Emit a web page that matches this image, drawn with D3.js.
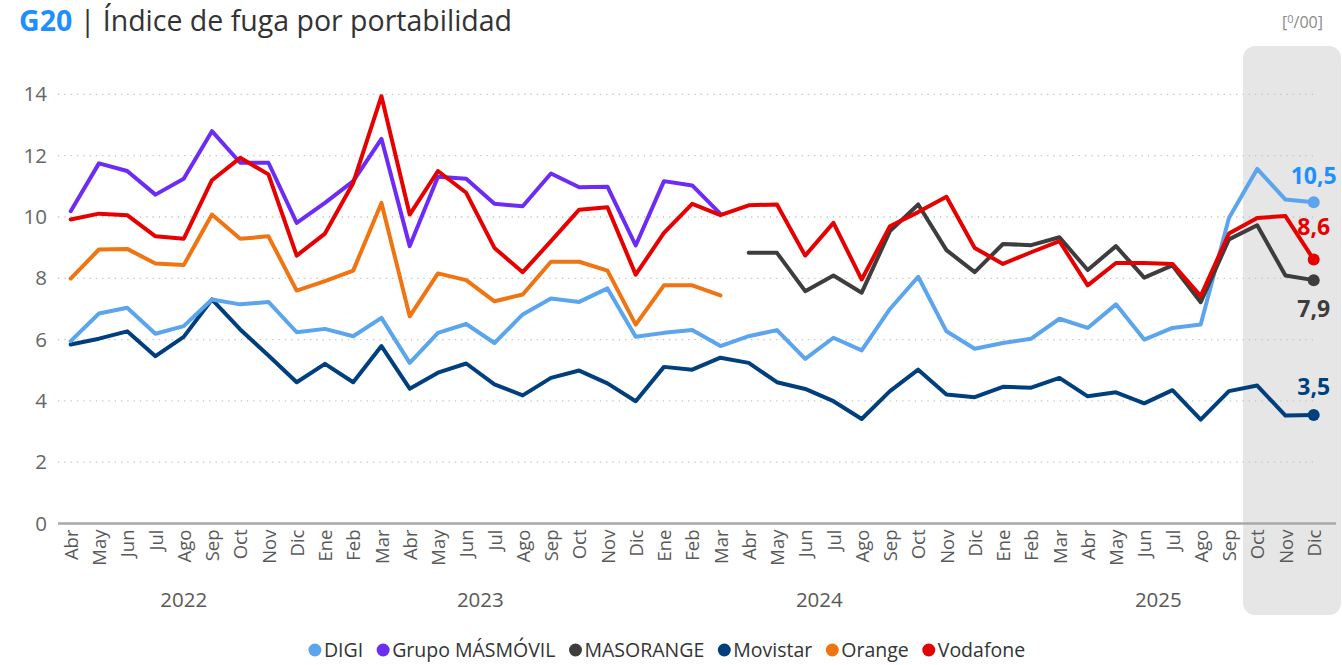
<!DOCTYPE html>
<html>
<head>
<meta charset="utf-8">
<script src="https://cdn.jsdelivr.net/npm/d3@7"></script>
<style>
  body { margin: 0; background: #fff; }
  svg { display: block; font-family: "Open Sans", "Noto Sans", sans-serif; }
</style>
</head>
<body>
<div class="graph"></div>
<script>
// months Abr 2022 .. Dic 2025
var months = ["Abr","May","Jun","Jul","Ago","Sep","Oct","Nov","Dic",
  "Ene","Feb","Mar","Abr","May","Jun","Jul","Ago","Sep","Oct","Nov","Dic",
  "Ene","Feb","Mar","Abr","May","Jun","Jul","Ago","Sep","Oct","Nov","Dic",
  "Ene","Feb","Mar","Abr","May","Jun","Jul","Ago","Sep","Oct","Nov","Dic"];
var years = ["2022", "2023", "2024", "2025"];
var yTicks = [0, 2, 4, 6, 8, 10, 12, 14];

var digi = [5.95, 6.85, 7.04, 6.19, 6.44, 7.31, 7.15, 7.23, 6.24,
  6.35, 6.11, 6.71, 5.24, 6.22, 6.51, 5.89, 6.82, 7.34, 7.23, 7.67, 6.09,
  6.22, 6.31, 5.79, 6.11, 6.31, 5.37, 6.06, 5.65, 7.0, 8.05, 6.27, 5.7,
  5.89, 6.03, 6.68, 6.38, 7.15, 6.0, 6.38, 6.49, 9.97, 11.57, 10.57, 10.48];

var masmovil = [10.19, 11.75, 11.5, 10.73, 11.25, 12.8, 11.77, 11.77, 9.81,
  10.46, 11.17, 12.55, 9.05, 11.31, 11.25, 10.43, 10.35, 11.42, 10.97, 10.99, 9.07,
  11.17, 11.03, 10.1, null, null, null, null, null, null, null, null, null,
  null, null, null, null, null, null, null, null, null, null, null, null];

var masorange = [null, null, null, null, null, null, null, null, null,
  null, null, null, null, null, null, null, null, null, null, null, null,
  null, null, null, 8.83, 8.83, 7.58, 8.09, 7.53, 9.54, 10.41, 8.92, 8.2,
  9.12, 9.08, 9.34, 8.27, 9.05, 8.02, 8.42, 7.22, 9.27, 9.73, 8.09, 7.94];

var movistar = [5.84, 6.03, 6.27, 5.46, 6.09, 7.31, 6.33, 5.48, 4.61,
  5.21, 4.61, 5.79, 4.4, 4.92, 5.22, 4.54, 4.18, 4.75, 4.99, 4.57, 3.99,
  5.11, 5.02, 5.41, 5.24, 4.61, 4.39, 3.99, 3.41, 4.32, 5.02, 4.21, 4.12,
  4.46, 4.43, 4.75, 4.15, 4.28, 3.92, 4.35, 3.39, 4.32, 4.5, 3.52, 3.54];

var orange = [7.99, 8.94, 8.96, 8.48, 8.43, 10.08, 9.29, 9.37, 7.6,
  7.91, 8.25, 10.46, 6.76, 8.16, 7.94, 7.25, 7.47, 8.54, 8.54, 8.25, 6.49,
  7.77, 7.77, 7.44, null, null, null, null, null, null, null, null, null,
  null, null, null, null, null, null, null, null, null, null, null, null];

var vodafone = [9.92, 10.11, 10.06, 9.37, 9.29, 11.2, 11.93, 11.39, 8.74,
  9.46, 11.11, 13.94, 10.08, 11.5, 10.79, 8.99, 8.2, 9.21, 10.24, 10.32, 8.12,
  9.48, 10.43, 10.06, 10.38, 10.41, 8.74, 9.81, 7.96, 9.7, 10.16, 10.66, 8.99,
  8.47, 8.85, 9.21, 7.77, 8.5, 8.5, 8.47, 7.42, 9.46, 9.97, 10.03, 8.61];

var series = [
  {name: "DIGI", values: digi, color: "#5aa5ee", label: "#1e8fff"},
  {name: "Grupo MÁSMÓVIL", values: masmovil, color: "#6c2cf6"},
  {name: "MASORANGE", values: masorange, color: "#3d3d3d", label: "#3d3d3d"},
  {name: "Movistar", values: movistar, color: "#003f7d", label: "#003f7d"},
  {name: "Orange", values: orange, color: "#f07412"},
  {name: "Vodafone", values: vodafone, color: "#e60000", label: "#e60000"}
];
// draw order (back to front)
var drawOrder = ["Orange", "Grupo MÁSMÓVIL", "Movistar", "DIGI", "MASORANGE", "Vodafone"];
// end label offsets (pixels from last point to text baseline)
var labelOffset = {"DIGI": -18, "Vodafone": -25, "MASORANGE": 37, "Movistar": -20};

var width = 1342, height = 665;

var svg = d3.select("div.graph").append("svg")
    .attr("width", width)
    .attr("height", height);

var x = d3.scalePoint().domain(d3.range(months.length)).range([70.7, 1313.7]);
var y = d3.scaleLinear().domain([0, 14]).range([523.5, 94.4]);
var step = x.step();

// highlighted last quarter (Oct - Dic 2025)
var hx = x(months.length - 3) - step / 2;
svg.append("rect")
    .attr("x", hx)
    .attr("y", 46)
    .attr("width", width - hx - 1)
    .attr("height", 569)
    .attr("rx", 12)
    .attr("fill", "#e6e6e6");

// title
var title = svg.append("text")
    .attr("x", 19)
    .attr("y", 31)
    .attr("font-size", 28.5);
title.append("tspan").attr("font-weight", "bold").attr("fill", "#1e8fff").text("G20");
title.append("tspan").attr("fill", "#333").text(" | Índice de fuga por portabilidad");

var unit = svg.append("text")
    .attr("x", 1323)
    .attr("y", 28)
    .attr("text-anchor", "end")
    .attr("font-size", 16)
    .attr("fill", "#8a8a8a");
unit.append("tspan").text("[");
unit.append("tspan").attr("font-size", 11).attr("dy", -5).text("0");
unit.append("tspan").attr("dy", 5).text("/00]");

// gridlines
svg.append("g")
  .selectAll("line")
  .data(yTicks.filter(function(d) { return d > 0; }))
  .enter().append("line")
    .attr("x1", 58)
    .attr("x2", 1318)
    .attr("y1", function(d) { return y(d); })
    .attr("y2", function(d) { return y(d); })
    .attr("stroke", "#c4c4c4")
    .attr("stroke-width", 1.3)
    .attr("stroke-dasharray", "1.3,5");

// y axis
var yAxis = svg.append("g")
    .attr("transform", "translate(47,0)")
    .call(d3.axisLeft(y).tickValues(yTicks).tickSize(0).tickPadding(0));
yAxis.select(".domain").remove();
yAxis.selectAll("text")
    .attr("font-size", 20.5)
    .attr("fill", "#666")
    .attr("font-family", "Open Sans, sans-serif");

// x axis
var xAxis = svg.append("g")
    .attr("transform", "translate(0," + y(0) + ")")
    .call(d3.axisBottom(x).tickSize(0).tickFormat(function(i) { return months[i]; }));
xAxis.select(".domain")
    .attr("d", "M58,0H1336")
    .attr("stroke", "#a8a8a8")
    .attr("stroke-width", 2.5);
xAxis.selectAll("text")
    .attr("font-size", 18.5)
    .attr("fill", "#595959")
    .attr("font-family", "Open Sans, sans-serif")
    .attr("text-anchor", "end")
    .attr("transform", "rotate(-90)")
    .attr("x", -6)
    .attr("y", 0)
    .attr("dy", "0.36em");

// year labels
var yearStart = [0];
months.forEach(function(m, i) { if (m === "Ene") yearStart.push(i); });
svg.append("g")
  .selectAll("text")
  .data(years)
  .enter().append("text")
    .attr("x", function(d, i) {
      var a = yearStart[i];
      var b = i + 1 < yearStart.length ? yearStart[i + 1] - 1 : months.length - 1;
      return (x(a) + x(b)) / 2;
    })
    .attr("y", 607)
    .attr("text-anchor", "middle")
    .attr("font-size", 20.5)
    .attr("fill", "#595959")
    .text(function(d) { return d; });

// lines
var line = d3.line()
    .defined(function(d) { return d != null; })
    .x(function(d, i) { return x(i); })
    .y(function(d) { return y(d); });

drawOrder.forEach(function(name) {
  var s = series.find(function(d) { return d.name === name; });
  svg.append("path")
      .datum(s.values)
      .attr("fill", "none")
      .attr("stroke", s.color)
      .attr("stroke-width", 4)
      .attr("stroke-linejoin", "round")
      .attr("stroke-linecap", "round")
      .attr("d", line);
});

// end dots and labels
series.filter(function(s) { return s.label; }).forEach(function(s) {
  var last = s.values.length - 1;
  var v = s.values[last];
  svg.append("circle")
      .attr("cx", x(last))
      .attr("cy", y(v))
      .attr("r", 6)
      .attr("fill", s.color);
  svg.append("text")
      .attr("x", x(last))
      .attr("y", y(v) + labelOffset[s.name])
      .attr("text-anchor", "middle")
      .attr("font-size", 23)
      .attr("font-weight", "bold")
      .attr("fill", s.label)
      .text(d3.format(".1f")(v).replace(".", ","));
});

// legend
var legend = svg.append("g").attr("transform", "translate(0,650)");
var lx = 0;
series.forEach(function(s) {
  var g = legend.append("g").attr("transform", "translate(" + lx + ",0)");
  g.append("circle").attr("cx", 6).attr("cy", 0).attr("r", 6.5).attr("fill", s.color);
  var t = g.append("text")
      .attr("x", 15)
      .attr("y", 0)
      .attr("dy", "0.35em")
      .attr("font-size", 19.5)
      .attr("fill", "#333")
      .text(s.name);
  lx += 15 + t.node().getComputedTextLength() + 14;
});
legend.attr("transform", "translate(" + (667 - (lx - 14) / 2) + ",650)");
</script>
</body>
</html>
